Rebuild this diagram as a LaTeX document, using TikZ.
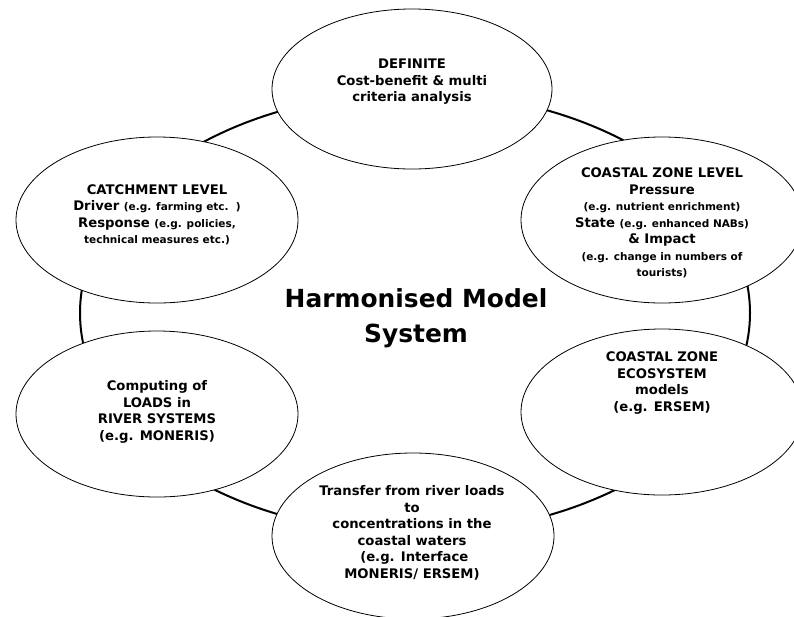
\documentclass[tikz,border=0pt]{standalone}
\usepackage{fontspec}
\setmainfont{DejaVu Sans}
\usetikzlibrary{shapes.geometric}
\tikzset{
  bub/.style={ellipse, draw=black, line width=0.8pt, fill=white, inner sep=0pt,
              minimum width=282pt, minimum height=166pt},
  ringstyle/.style={ellipse, draw=black, line width=2pt, inner sep=0pt},
  lbl/.style={align=center, inner sep=0pt, font=\fontsize{13.2}{16.5}\selectfont\bfseries},
  ttl/.style={align=center, inner sep=0pt, font=\fontsize{24.9}{35}\selectfont\bfseries},
}
\newcommand{\smtxt}[1]{{\fontsize{10.5}{16.5}\selectfont #1}}
\begin{document}
\begin{tikzpicture}[x=1pt,y=-1pt]
\useasboundingbox (0,0) rectangle (794,616);
\clip (0,0) rectangle (794,616);
% big ring
\node[ringstyle, minimum width=670pt, minimum height=441pt] (ring) at (415,313) {};
% bubbles
\node[bub, minimum width=280pt, minimum height=160pt] (def) at (412,89) {};
\node[bub] (cat) at (157,220) {};
\node[bub] (czl) at (662,220) {};
\node[bub] (comp) at (157,414) {};
\node[bub] (eco) at (662,412) {};
\node[bub] (tr) at (413,536) {};
% texts
\node[lbl] (tdef) at (412,82) {DEFINITE\\Cost-benefit \& multi\\criteria analysis};
\node[lbl] (tcat) at (157,215) {CATCHMENT LEVEL\\Driver \smtxt{(e.g. farming etc.~~)}\\Response \smtxt{(e.g. policies,}\\\smtxt{technical measures etc.)}};
\node[lbl] (tczl) at (662,223) {COASTAL ZONE LEVEL\\Pressure\\\smtxt{(e.g. nutrient enrichment)}\\State \smtxt{(e.g. enhanced NABs)}\\\& Impact\\\smtxt{(e.g. change in numbers of}\\\smtxt{tourists)}};
\node[lbl] (tcomp) at (157,412) {Computing of\\LOADS in\\RIVER SYSTEMS\\(e.g. MONERIS)};
\node[lbl] (teco) at (662,383) {COASTAL ZONE\\ECOSYSTEM\\models\\(e.g. ERSEM)};
\node[lbl] (ttr) at (412,533) {Transfer from river loads\\to\\concentrations in the\\coastal waters\\~(e.g. Interface\\MONERIS/ ERSEM)};
\node[ttl] (title) at (416,318) {Harmonised Model\\System};
\end{tikzpicture}
\end{document}
